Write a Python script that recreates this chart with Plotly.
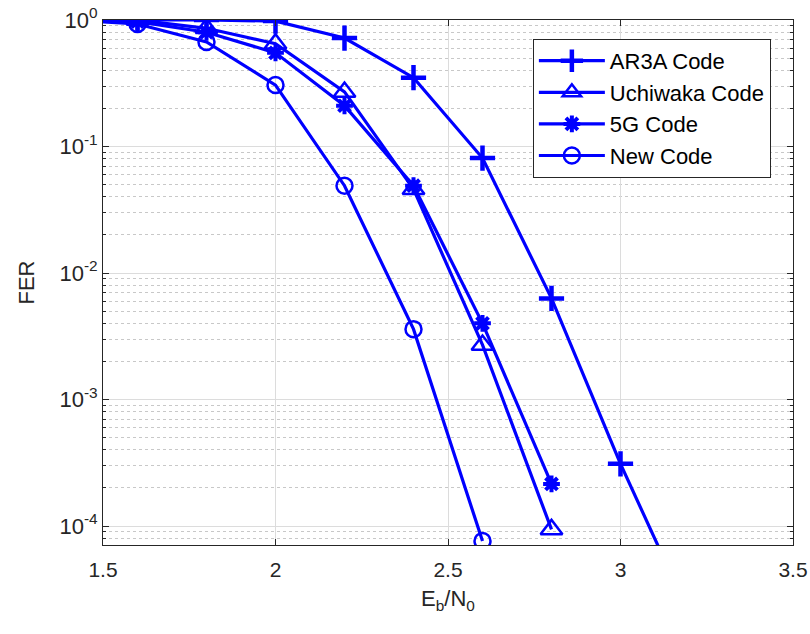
import plotly.graph_objects as go

ebn0 = [1.4, 1.6, 1.8, 2.0, 2.2, 2.4, 2.6, 2.8, 3.0, 3.2]
ar3a = [1.0, 1.0, 1.0, 0.98, 0.72, 0.35, 0.081, 0.0063, 3.1e-4, 2.0e-5]
uchi_x = [1.4, 1.6, 1.8, 2.0, 2.2, 2.4, 2.6, 2.8]
uchiwaka = [1.0, 1.0, 0.86, 0.65, 0.27, 0.046, 0.0027, 9.4e-5]
g5_x = [1.4, 1.6, 1.8, 2.0, 2.2, 2.4, 2.6, 2.8]
g5 = [1.0, 0.97, 0.80, 0.55, 0.21, 0.049, 0.0040, 2.15e-4]
new_x = [1.4, 1.6, 1.8, 2.0, 2.2, 2.4, 2.6]
new = [1.0, 0.93, 0.67, 0.306, 0.049, 0.0036, 7.6e-5]

ytickvals = [1e-4, 1e-3, 1e-2, 1e-1, 1]
yticktext = ["10<sup>-4</sup>", "10<sup>-3</sup>", "10<sup>-2</sup>", "10<sup>-1</sup>", "10<sup>0</sup>"]
xtickvals = [1.5, 2, 2.5, 3, 3.5]
xticktext = ["1.5", "2", "2.5", "3", "3.5"]

blue = "#0000FF"
fig = go.Figure()
series = [
    ("AR3A Code", ebn0, ar3a, "cross-thin-open", 18, 4.5),
    ("Uchiwaka Code", uchi_x, uchiwaka, "triangle-up-open", 19, 2.5),
    ("5G Code", g5_x, g5, "asterisk-open", 14, 4.0),
    ("New Code", new_x, new, "circle-open", 16, 2.5),
]
for name, xs, ys, sym, sz, mlw in series:
    fig.add_trace(go.Scatter(
        x=xs, y=ys, name=name, mode="lines+markers",
        line=dict(color=blue, width=3.2),
        marker=dict(symbol=sym, size=sz, color=blue, line=dict(color=blue, width=mlw)),
        cliponaxis=True,
    ))

axcol = "#262626"
fig.update_layout(
    width=810, height=634,
    margin=dict(l=103, r=17, t=20, b=89, autoexpand=False),
    paper_bgcolor="white", plot_bgcolor="white",
    font=dict(family="Liberation Sans, Arial, sans-serif", size=21, color=axcol),
    showlegend=True,
    legend=dict(x=0.623, y=0.964, xanchor="left", yanchor="top",
                bgcolor="white", bordercolor=axcol, borderwidth=1,
                font=dict(size=22, color="#000000"), itemwidth=66,
                tracegroupgap=0),
)
fig.update_xaxes(
    range=[1.5, 3.5], tickvals=xtickvals, ticktext=xticktext,
    showline=True, linecolor=axcol, linewidth=1, mirror="ticks",
    ticks="inside", ticklen=6, tickcolor=axcol,
    tickfont=dict(size=21), automargin=False, ticklabelstandoff=6,
    showgrid=True, gridcolor="#dcdcdc", gridwidth=1, zeroline=False,
    title=dict(text="E<sub>b</sub>/N<sub>0</sub>", font=dict(size=22), standoff=10),
)
fig.update_yaxes(
    type="log", range=[-4.15, 0.0], tickvals=ytickvals, ticktext=yticktext,
    showline=True, linecolor=axcol, linewidth=1, mirror="ticks",
    ticks="inside", ticklen=6, tickcolor=axcol,
    tickfont=dict(size=22), automargin=False,
    showgrid=True, gridcolor="#dcdcdc", gridwidth=1, zeroline=False,
    minor=dict(showgrid=True, gridcolor="#c8c8c8", griddash="dot", gridwidth=1,
               ticks="inside", ticklen=3, tickcolor=axcol, dtick="D1"),
    title=dict(text="FER", font=dict(size=22), standoff=18),
)
fig.write_html("out.html")
